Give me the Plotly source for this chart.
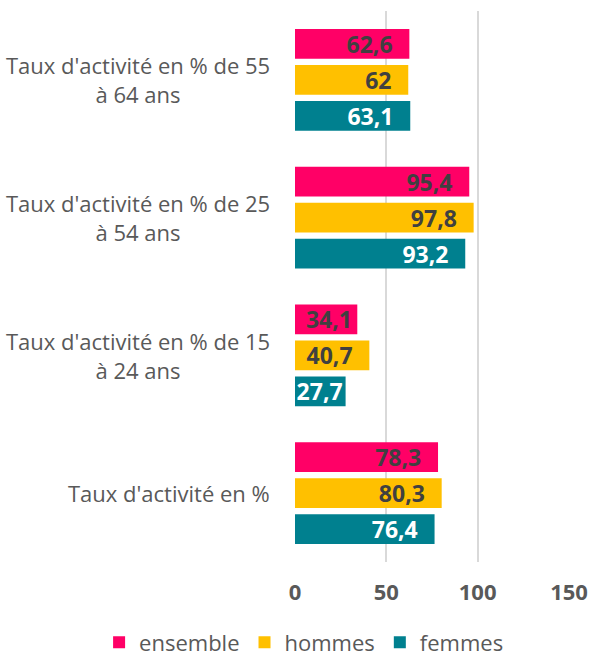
import plotly.graph_objects as go

categories = ["Taux d'activité en %",
              "Taux d'activité en % de 15<br>à 24 ans",
              "Taux d'activité en % de 25<br>à 54 ans",
              "Taux d'activité en % de 55<br>à 64 ans"]
ensemble = [78.3, 34.1, 95.4, 62.6]
hommes = [80.3, 40.7, 97.8, 62.0]
femmes = [76.4, 27.7, 93.2, 63.1]
x_ticks = [0, 50, 100, 150]

FONT = "Open Sans"

def fmt(v):
    return f"{v:g}".replace(".", ",")

def label_template(v):
    # trailing spacing mimics the inside-end padding of the original labels
    if v >= 40:
        return "%{text}\u2002\u200a"
    if v >= 30:
        return "%{text}\u200a"
    return "%{text}"

fig = go.Figure()
series = [("femmes", femmes, "#00808F", "white", 3),
          ("hommes", hommes, "#FFC000", "#404040", 2),
          ("ensemble", ensemble, "#FF0066", "#404040", 1)]
for name, vals, color, tcolor, rank in series:
    fig.add_trace(go.Bar(
        y=list(range(len(categories))), x=vals, name=name, orientation="h",
        marker=dict(color=color, line=dict(width=0)),
        text=[fmt(v) for v in vals], texttemplate=[label_template(v) for v in vals],
        textposition="inside", textangle=0,
        insidetextanchor="end", constraintext="none", cliponaxis=False,
        textfont=dict(family=FONT, size=23, color=tcolor, weight="bold"),
        legendrank=rank, hoverinfo="skip"))

for i, c in enumerate(categories):
    fig.add_annotation(x=0, xref="paper", xshift=-23, xanchor="right",
                       y=i, yref="y", text=c, showarrow=False, align="center",
                       font=dict(family=FONT, size=22, color="#595959"))

fig.update_layout(
    width=590, height=656, barmode="group", bargap=0.216, bargroupgap=0.167,
    margin=dict(l=295, r=21, t=11, b=94, autoexpand=False),
    plot_bgcolor="white", paper_bgcolor="white",
    xaxis=dict(range=[0, 150], tickvals=x_ticks, showgrid=True, gridcolor="#D9D9D9",
               gridwidth=1.5, zeroline=False, showline=False, automargin=False,
               tickfont=dict(family=FONT, size=22, color="#595959", weight="bold"),
               ticklabelstandoff=15, fixedrange=True),
    yaxis=dict(range=[-0.5, 3.5], tickvals=list(range(4)), showticklabels=False,
               showgrid=False, zeroline=False, showline=False, automargin=False,
               fixedrange=True),
    legend=dict(orientation="h", x=-0.715, xanchor="left", y=-0.146, yanchor="middle",
                font=dict(family=FONT, size=22, color="#595959"),
                itemwidth=30, traceorder="normal"),
    showlegend=True,
)
fig.write_html("out.html", config={"displayModeBar": False},
               post_script="document.body.style.margin='0';")
